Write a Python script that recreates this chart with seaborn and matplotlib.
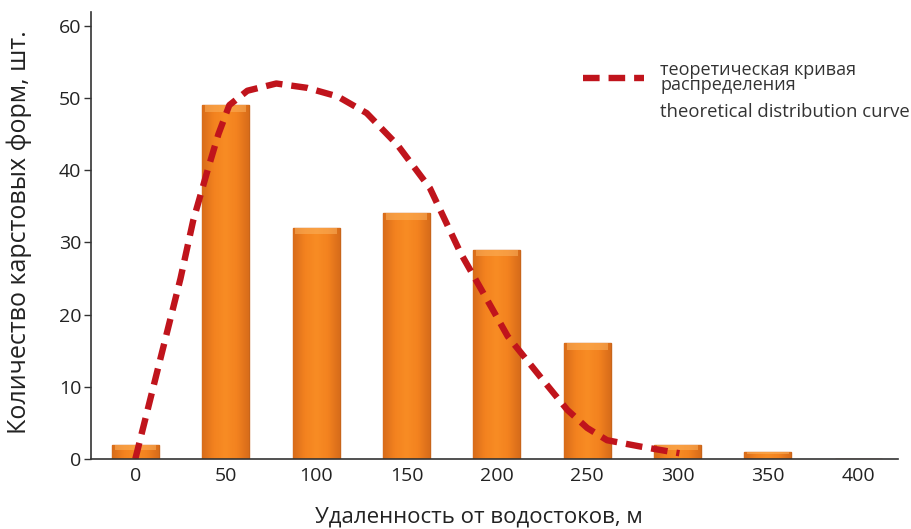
import numpy as np
import pandas as pd
import seaborn as sns
import matplotlib
matplotlib.use("Agg")
import matplotlib.pyplot as plt
from matplotlib.colors import LinearSegmentedColormap

sns.set_theme(style="white")
plt.rcParams['font.family'] = ['Open Sans', 'DejaVu Sans']

# distance from drains, m (bin centres) and number of karst forms
distance = [0, 50, 100, 150, 200, 250, 300, 350, 400]
counts = [2, 49, 32, 34, 29, 16, 2, 1, 0]

# theoretical distribution curve
curve_m = [0, 8, 17, 25, 32, 40, 46, 52, 62, 78, 95, 112, 128, 145,
           163, 180, 197, 206, 224, 239, 250, 261, 280, 301]
curve_y = [0, 8, 17, 25, 33, 40, 45, 49, 51, 52, 51.4, 50.2, 47.9, 43.5,
           37.5, 28.5, 21, 17, 11.4, 6.8, 4.3, 2.6, 1.7, 0.8]

df = pd.DataFrame({"distance": distance, "count": counts})

fig = plt.figure(figsize=(9.12, 5.29), dpi=100)
ax = fig.add_axes([0.0998, 0.1323, 0.885, 0.845])

sns.barplot(data=df, x="distance", y="count", color="#F5831F",
            width=0.52, saturation=1, edgecolor="#C8651A", linewidth=1.0, ax=ax)

# orange gradient inside each bar (darker at the sides, lighter in the middle)
grad = LinearSegmentedColormap.from_list(
    "bar", ["#D86C1A", "#F3821F", "#F88C24", "#F3821F", "#D86C1A"])
row = np.linspace(0, 1, 64).reshape(1, -1)
for p in list(ax.patches):
    h = p.get_height()
    if h <= 0:
        continue
    x0 = p.get_x()
    w = p.get_width()
    im = ax.imshow(row, cmap=grad, aspect="auto", extent=[x0, x0 + w, 0, h],
                   zorder=p.get_zorder() + 0.1, interpolation="bicubic")
    im.set_clip_path(p)
    # light strip on top of the bar
    ax.fill_between([x0 + w * 0.06, x0 + w * 0.94], h - min(0.9, h * 0.35), h,
                    color="#FBB25E", alpha=0.55, lw=0, zorder=p.get_zorder() + 0.2)
ax.set_aspect("auto")

# category axis: one slot per 50 m
pos = np.array(curve_m) / 50.0
ax.plot(pos, curve_y, color="#C0141C", lw=4.6, dashes=(2.6, 1.4),
        dash_capstyle="butt", zorder=5,
        label="теоретическая кривая\nраспределения")

ax.set_xlim(-0.49, 8.44)
ax.set_ylim(0, 61.9)
ax.set_yticks([0, 10, 20, 30, 40, 50, 60])
ax.set_xticks(range(len(distance)))
ax.set_xticklabels([str(d) for d in distance])

ax.set_xlabel("Удаленность от водостоков, м", fontsize=16, color="#222222", va="center")
ax.xaxis.set_label_coords(0.48, -0.13)
ax.set_ylabel("Количество карстовых форм, шт.", fontsize=18, color="#222222", va="center")
ax.yaxis.set_label_coords(-0.089, 0.508)

ax.tick_params(axis="y", which="both", left=True, length=5, width=1, color="#333333",
               labelsize=14, labelcolor="#222222", pad=2)
ax.tick_params(axis="x", bottom=False, labelsize=14, labelcolor="#222222", pad=0)

for side in ["top", "right"]:
    ax.spines[side].set_visible(False)
for side in ["left", "bottom"]:
    ax.spines[side].set_color("#333333")
    ax.spines[side].set_linewidth(1.2)
ax.spines["bottom"].set_zorder(6)

leg = ax.legend(loc="upper left", bbox_to_anchor=(0.60, 0.907), frameon=False,
                fontsize=13, handlelength=3.4, handletextpad=0.9,
                labelspacing=0.2, borderaxespad=0)
for t in leg.get_texts():
    t.set_color("#333333")
    t.set_linespacing(0.82)

fig.text(0.7235, 0.778, "theoretical distribution curve", fontsize=13.3,
         color="#333333", ha="left", va="baseline")

fig.savefig("out.png", dpi=100)
